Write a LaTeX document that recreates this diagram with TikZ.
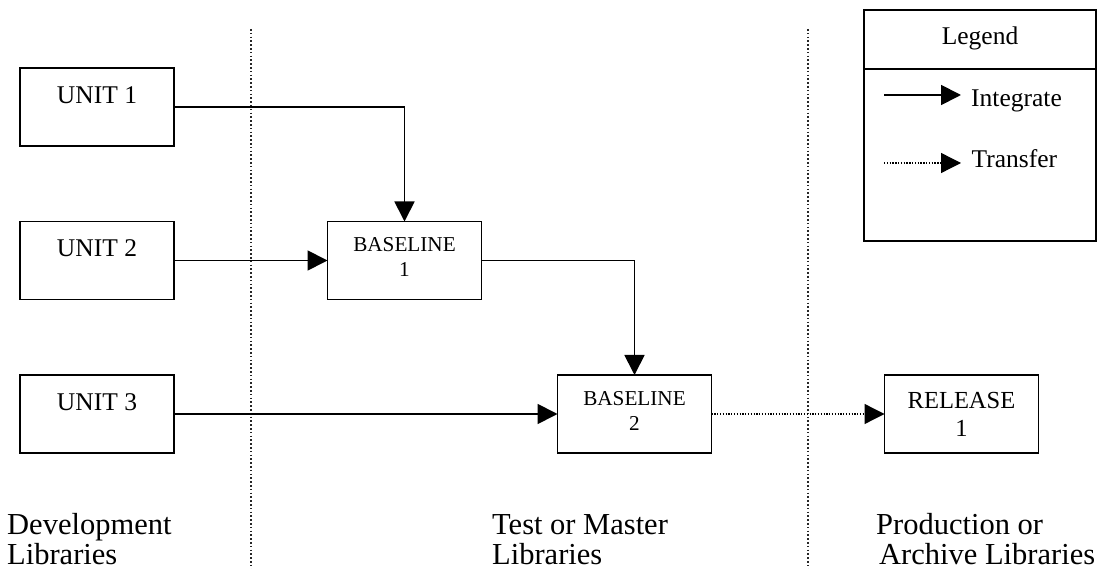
\documentclass[tikz,border=0pt]{standalone}
\usepackage{fontspec}
\setmainfont{Liberation Serif}
\usetikzlibrary{arrows.meta}
\begin{document}
\begin{tikzpicture}[x=1pt,y=-1pt,
  box/.style={draw, line width=1.6pt, minimum width=154pt, minimum height=78pt,
              inner sep=0pt, outer sep=0pt},
  integ/.style={line width=1.8pt, -{Triangle[length=20pt,width=20pt]}},
  transf/.style={line width=1.3pt, dash pattern=on 1.3pt off 1.5pt,
                 -{Triangle[length=20pt,width=20pt]}},
  divider/.style={line width=1.1pt, dash pattern=on 1.6pt off 2.2pt, black!85},
  big/.style={font=\fontsize{25.5}{30}\selectfont, inner sep=0pt, anchor=base},
  small/.style={font=\fontsize{21.2}{25}\selectfont, inner sep=0pt, anchor=base},
  mid/.style={font=\fontsize{24.5}{29}\selectfont, inner sep=0pt, anchor=base},
  area/.style={font=\fontsize{30.5}{30}\selectfont, inner sep=0pt, anchor=base west},
]
\useasboundingbox (0,0) rectangle (1104,569);

% library boundaries
\coordinate (d1t) at (251,29);  \coordinate (d1b) at (251,569);
\coordinate (d2t) at (808,29);  \coordinate (d2b) at (808,569);
\draw[divider] (d1t) -- (d1b);
\draw[divider] (d2t) -- (d2b);

% development units
\node[box] (u1) at (97,107) {};
\node[box] (u2) at (97,260.5) {};
\node[box] (u3) at (97,414) {};
\node[big] at ([yshift=-35.5pt]u1.north) {UNIT 1};
\node[big] at ([yshift=-35.5pt]u2.north) {UNIT 2};
\node[big] at ([yshift=-35.5pt]u3.north) {UNIT 3};

% baselines
\node[box] (b1) at (404.5,260.5) {};
\node[small] at ([yshift=-30.5pt]b1.north) {BASELINE};
\node[small] at ([yshift=-55pt]b1.north) {1};
\node[box] (b2) at (634.5,414) {};
\node[small] at ([yshift=-31pt]b2.north) {BASELINE};
\node[small] at ([yshift=-55.5pt]b2.north) {2};

% release
\node[box] (r1) at (961.5,414) {};
\node[mid] at ([yshift=-33.3pt]r1.north) {RELEASE};
\node[mid] at ([yshift=-61.7pt]r1.north) {1};

% integration and transfer flows
\draw[integ] (u1.east) -| (b1.north);
\draw[integ] (u2.east) -- (b1.west);
\draw[integ] (b1.east) -| (b2.north);
\draw[integ] (u3.east) -- (b2.west);
\draw[transf] (b2.east) -- (r1.west);

% legend
\node[box, minimum width=232pt, minimum height=231pt] (lg) at (980,125.5) {};
\coordinate (lgl) at (864,69); \coordinate (lgr) at (1096,69);
\draw[line width=1.6pt] (lgl) -- (lgr);
\node[big] at (980,45) {Legend};
\coordinate (i0) at (884,95);  \coordinate (i1) at (961,95);
\coordinate (t0) at (884,163); \coordinate (t1) at (961,163);
\draw[integ] (i0) -- (i1);
\draw[transf] (t0) -- (t1);
\node[big, anchor=base west] at (971,107) {Integrate};
\node[big, anchor=base west] at (971.5,167.5) {Transfer};

% library area captions
\node[area] at (7,534.5) {Development};
\node[area] at (7,564) {Libraries};
\node[area] at (492,534.5) {Test or Master};
\node[area] at (492,564) {Libraries};
\node[area] at (876,534.5) {Production or};
\node[area] at (879,564) {Archive Libraries};
\end{tikzpicture}
\end{document}
